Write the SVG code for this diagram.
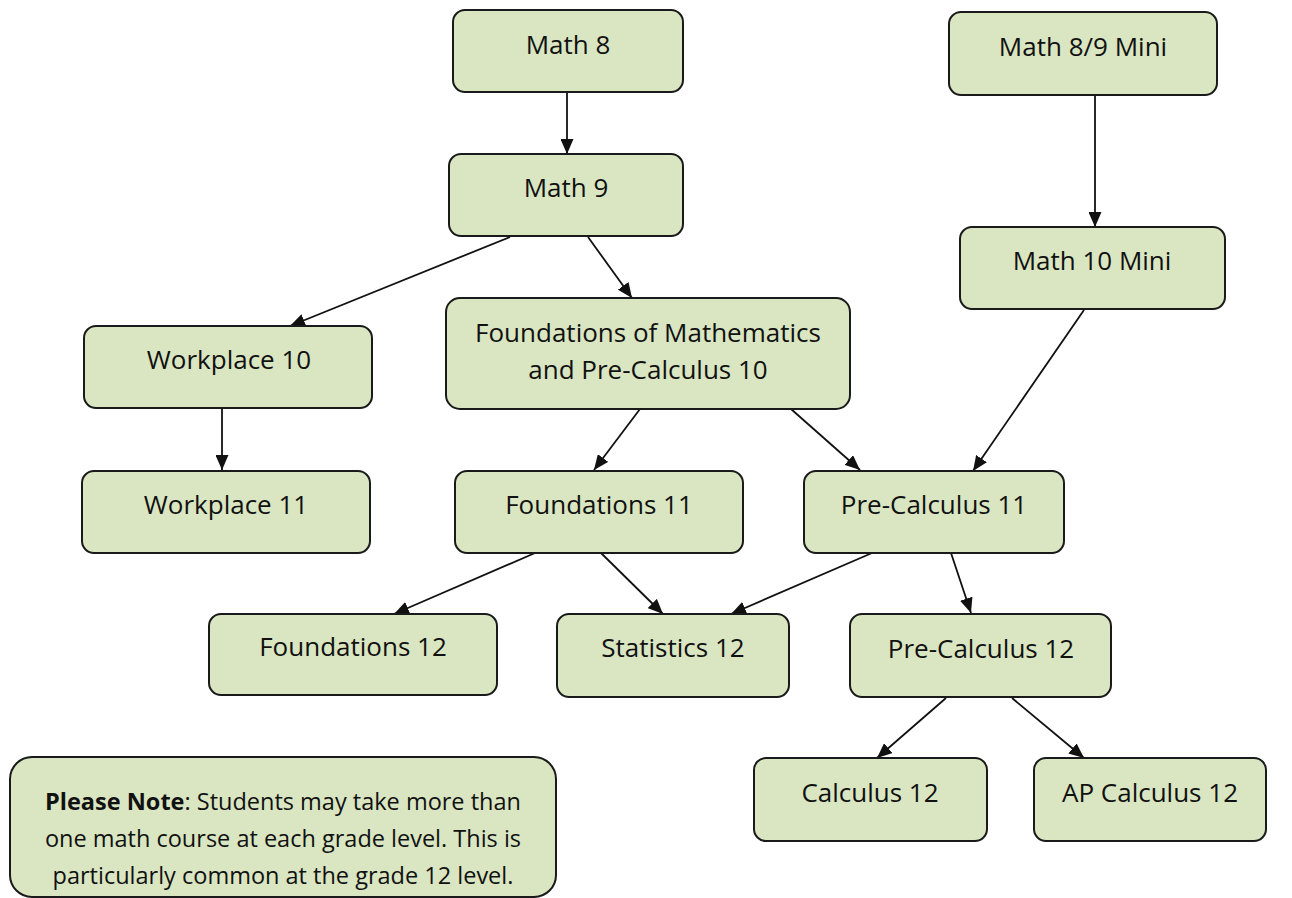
<svg xmlns="http://www.w3.org/2000/svg" width="1292" height="898" viewBox="0 0 1292 898">
<style>
.n rect{fill:#D9E6C1;stroke:#1a1a1a;stroke-width:2}
.n text{font-family:"Open Sans","Liberation Sans",sans-serif;font-size:26px;fill:#111;text-anchor:middle}
.note text{font-size:23.5px}
.c line{stroke:#111;stroke-width:1.8;marker-end:url(#ah)}
</style>
<defs>
<marker id="ah" viewBox="0 0 15 13" refX="15" refY="6.5" markerWidth="15" markerHeight="13" markerUnits="userSpaceOnUse" orient="auto">
<path d="M0,0 L15,6.5 L0,13 Z" fill="#111"/>
</marker>
</defs>
<rect width="1292" height="898" fill="#fff"/>
<g class="c">
<line x1="567" y1="92" x2="567" y2="154"/>
<line x1="510" y1="237" x2="290" y2="326"/>
<line x1="588" y1="237" x2="632" y2="298"/>
<line x1="1095" y1="95" x2="1095" y2="227"/>
<line x1="1084" y1="310" x2="973" y2="471"/>
<line x1="222" y1="408" x2="222" y2="470"/>
<line x1="640" y1="409" x2="594" y2="470"/>
<line x1="791" y1="409" x2="860" y2="470"/>
<line x1="535" y1="553" x2="394" y2="614"/>
<line x1="601" y1="553" x2="663" y2="614"/>
<line x1="872" y1="553" x2="731" y2="614"/>
<line x1="951" y1="553" x2="971" y2="613"/>
<line x1="946" y1="698" x2="877" y2="758"/>
<line x1="1012" y1="698" x2="1084" y2="758"/>
</g>
<g id="math8" class="n"><rect x="453" y="10" width="230" height="82" rx="12"/><text x="568" y="54">Math 8</text></g>
<g id="math9" class="n"><rect x="449" y="154" width="234" height="82" rx="12"/><text x="566" y="197">Math 9</text></g>
<g id="math89mini" class="n"><rect x="949" y="12" width="268" height="83" rx="12"/><text x="1083" y="56">Math 8/9 Mini</text></g>
<g id="math10mini" class="n"><rect x="960" y="227" width="265" height="82" rx="12"/><text x="1092" y="270">Math 10 Mini</text></g>
<g id="workplace10" class="n"><rect x="84" y="326" width="288" height="82" rx="12"/><text x="229" y="369">Workplace 10</text></g>
<g id="fpc10" class="n"><rect x="446" y="298" width="404" height="111" rx="14"/><text x="648" y="342">Foundations of Mathematics</text><text x="648" y="379">and Pre-Calculus 10</text></g>
<g id="workplace11" class="n"><rect x="82" y="471" width="288" height="82" rx="12"/><text x="226" y="514">Workplace 11</text></g>
<g id="found11" class="n"><rect x="455" y="471" width="288" height="82" rx="12"/><text x="599" y="514">Foundations 11</text></g>
<g id="precalc11" class="n"><rect x="804" y="471" width="260" height="82" rx="12"/><text x="934" y="514">Pre-Calculus 11</text></g>
<g id="found12" class="n"><rect x="209" y="614" width="288" height="81" rx="12"/><text x="353" y="656">Foundations 12</text></g>
<g id="stats12" class="n"><rect x="557" y="614" width="232" height="83" rx="12"/><text x="673" y="657">Statistics 12</text></g>
<g id="precalc12" class="n"><rect x="850" y="614" width="261" height="83" rx="12"/><text x="981" y="658">Pre-Calculus 12</text></g>
<g id="calc12" class="n"><rect x="754" y="758" width="233" height="83" rx="12"/><text x="870" y="802">Calculus 12</text></g>
<g id="apcalc12" class="n"><rect x="1034" y="758" width="232" height="83" rx="12"/><text x="1150" y="802">AP Calculus 12</text></g>
<g id="note" class="n note"><rect x="10" y="757" width="546" height="140" rx="22"/>
<text x="283" y="810"><tspan font-weight="bold">Please Note</tspan>: Students may take more than</text>
<text x="283" y="847">one math course at each grade level. This is</text>
<text x="283" y="884">particularly common at the grade 12 level.</text>
</g>
</svg>
